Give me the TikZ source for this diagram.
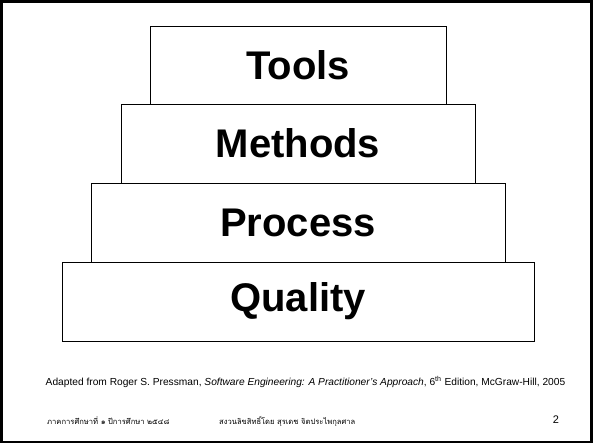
\documentclass[tikz,border=0pt]{standalone}
\usepackage{fontspec}
\setmainfont{Liberation Sans}
\newfontfamily\thaifont[Script=Thai]{Loma}
\begin{document}
\begin{tikzpicture}[x=1pt,y=-1pt,
  layer/.style={draw=black, line width=1pt, fill=white, inner sep=0pt,
    font=\fontsize{40}{44}\selectfont\bfseries},
  frame/.style={draw=black, line width=2.5pt},
  small/.style={inner sep=0pt, font=\fontsize{10.2}{12}\selectfont},
  foot/.style={inner sep=0pt, font=\thaifont\fontsize{7.6}{9}\selectfont}]
\useasboundingbox (0,0) rectangle (593,445);
\draw[frame] (1.5,1.5) rectangle (591.5,442);
\node[layer, minimum width=296pt, minimum height=78pt] (tools) at (298,65) {Tools};
\node[layer, minimum width=354pt, minimum height=79pt] (methods) at (298,143.5) {Methods};
\node[layer, minimum width=414pt, minimum height=79pt] (process) at (298,222.5) {Process};
\node[layer, minimum width=472pt, minimum height=79pt] (quality) at (298,301.5) {Quality};
\node[small] (credit) at (305.5,382) {Adapted from Roger S. Pressman, \textit{Software Engineering: A Practitioner's Approach}, 6\textsuperscript{th} Edition, McGraw-Hill, 2005};
\node[foot, anchor=west] (term) at (47,421) {ภาคการศึกษาที่ ๑ ปีการศึกษา ๒๕๔๘};
\node[foot, anchor=west] (copy) at (219,421) {สงวนลิขสิทธิ์โดย สุรเดช จิตประไพกุลศาล};
\node[small, font=\fontsize{11}{12}\selectfont] (page) at (556,420) {2};
\end{tikzpicture}
\end{document}
